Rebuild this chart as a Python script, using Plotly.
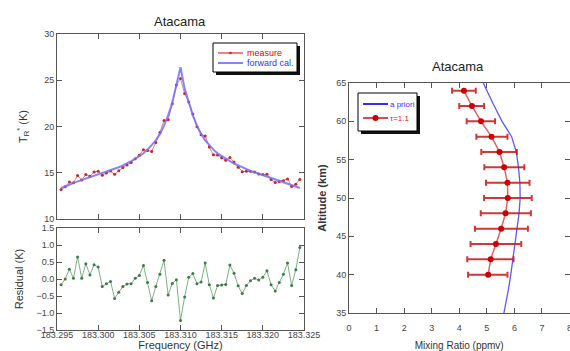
import plotly.graph_objects as go

# ---------------- data ----------------
freq = [183.2955, 183.296, 183.2965, 183.297, 183.2975, 183.298, 183.2985, 183.299, 183.2995, 183.300,
        183.3005, 183.301, 183.3015, 183.302, 183.3025, 183.303, 183.3035, 183.304, 183.3045, 183.305,
        183.3055, 183.306, 183.3065, 183.307, 183.3075, 183.308, 183.3085, 183.309, 183.3095, 183.310,
        183.3105, 183.311, 183.3115, 183.312, 183.3125, 183.313, 183.3135, 183.314, 183.3145, 183.315,
        183.3155, 183.316, 183.3165, 183.317, 183.3175, 183.318, 183.3185, 183.319, 183.3195, 183.320,
        183.3205, 183.321, 183.3215, 183.322, 183.3225, 183.323, 183.3235, 183.324, 183.3245]

measure = [13.18, 13.50, 13.99, 13.92, 14.70, 14.22, 14.80, 14.62, 15.07, 15.15,
           14.73, 14.96, 15.18, 14.83, 15.21, 15.58, 15.85, 16.11, 16.52, 16.90,
           17.50, 17.40, 17.31, 18.28, 19.34, 20.65, 20.73, 22.47, 24.48, 25.18,
           23.57, 22.65, 21.36, 19.96, 19.11, 18.97, 17.78, 16.94, 16.91, 16.62,
           16.34, 16.66, 16.17, 15.60, 15.12, 15.16, 15.15, 15.07, 14.87, 14.80,
           14.84, 14.28, 13.95, 14.05, 14.14, 14.32, 13.51, 13.77, 14.28]

forward = [13.35, 13.5, 13.7, 13.9, 14.05, 14.2, 14.35, 14.5, 14.65, 14.8,
           14.95, 15.1, 15.25, 15.4, 15.6, 15.8, 16.0, 16.25, 16.5, 16.8,
           17.1, 17.5, 17.95, 18.5, 19.2, 20.1, 21.2, 22.6, 24.5, 26.4,
           24.1, 22.6, 21.2, 20.1, 19.2, 18.5, 17.95, 17.5, 17.1, 16.8,
           16.5, 16.25, 16.0, 15.8, 15.55, 15.35, 15.2, 15.05, 14.9, 14.75,
           14.6, 14.45, 14.3, 14.15, 14.0, 13.85, 13.7, 13.5, 13.35]

residual = [-0.17, 0.0, 0.29, 0.02, 0.65, 0.02, 0.45, 0.12, 0.42, 0.35,
            -0.22, -0.14, -0.07, -0.57, -0.39, -0.22, -0.15, -0.14, 0.02, 0.1,
            0.4, -0.1, -0.64, -0.22, 0.14, 0.55, -0.47, -0.13, -0.02, -1.22,
            -0.53, 0.05, 0.16, -0.14, -0.09, 0.47, -0.17, -0.56, -0.19, -0.18,
            -0.16, 0.41, 0.17, -0.2, -0.43, -0.19, -0.05, 0.02, -0.03, 0.05,
            0.24, -0.17, -0.35, -0.1, 0.14, 0.47, -0.19, 0.27, 0.93]

freq_ticks = [183.295, 183.300, 183.305, 183.310, 183.315, 183.320, 183.325]
freq_ticklabels = ["183.295", "183.300", "183.305", "183.310", "183.315", "183.320", "183.325"]

apriori_alt = [35, 36, 38, 40, 42, 44, 46, 48, 50, 52, 54, 56, 58, 60, 62, 64, 65]
apriori_val = [5.62, 5.68, 5.78, 5.87, 5.95, 6.03, 6.11, 6.17, 6.21, 6.20, 6.15, 6.07, 5.90, 5.55, 5.27, 5.00, 4.87]

ret_alt = [64, 62, 60, 58, 56, 54, 52, 50, 48, 46, 44, 42, 40]
ret_val = [4.17, 4.46, 4.79, 5.17, 5.46, 5.63, 5.75, 5.76, 5.68, 5.52, 5.33, 5.14, 5.05]
ret_lo = [3.74, 4.00, 4.27, 4.62, 4.80, 4.91, 4.97, 4.90, 4.78, 4.57, 4.41, 4.29, 4.32]
ret_hi = [4.60, 4.90, 5.30, 5.75, 6.09, 6.36, 6.55, 6.63, 6.60, 6.49, 6.25, 5.97, 5.75]

err_plus = [h - v for h, v in zip(ret_hi, ret_val)]
err_minus = [v - l for l, v in zip(ret_lo, ret_val)]

legend1_labels = ["measure", "forward cal."]
legend2_labels = ["a priori", "τ=1.1"]

# ---------------- figure ----------------
W, H = 570, 351
FONT = "Liberation Sans, Arial, sans-serif"
AX = "#555555"
TICKC = "#444444"
RED_L = "rgba(230,80,80,0.75)"
BLUE_L = "rgba(110,110,255,0.85)"
RED_E = "rgba(200,20,20,0.85)"
APR = "rgba(70,70,255,0.9)"


def px_x(p):
    return p / W


def px_y(p):
    return 1 - p / H


fig = go.Figure()

fig.add_trace(go.Scatter(
    x=freq, y=measure, mode="lines+markers", name=legend1_labels[0], showlegend=False,
    line=dict(color=RED_L, width=1), marker=dict(color="#d02020", size=3),
    xaxis="x", yaxis="y"))
fig.add_trace(go.Scatter(
    x=freq, y=forward, mode="lines", name=legend1_labels[1], showlegend=False,
    line=dict(color=BLUE_L, width=2), xaxis="x", yaxis="y"))

fig.add_trace(go.Scatter(
    x=freq, y=residual, mode="lines+markers", showlegend=False, name="residual",
    line=dict(color="rgba(80,150,90,0.75)", width=1), marker=dict(color="#3c7a46", size=3),
    xaxis="x2", yaxis="y2"))

fig.add_trace(go.Scatter(
    x=apriori_val, y=apriori_alt, mode="lines", name=legend2_labels[0], showlegend=False,
    line=dict(color=APR, width=1.3), xaxis="x3", yaxis="y3"))
fig.add_trace(go.Scatter(
    x=ret_val, y=ret_alt, mode="lines+markers", name=legend2_labels[1], showlegend=False,
    line=dict(color="rgba(215,60,60,0.8)", width=1.5), marker=dict(color="#cc0000", size=6),
    error_x=dict(type="data", symmetric=False, array=err_plus, arrayminus=err_minus,
                 color=RED_E, thickness=2, width=3),
    xaxis="x3", yaxis="y3"))

common = dict(showline=True, linecolor=AX, linewidth=1, mirror="ticks", ticks="inside",
              ticklen=5, tickcolor=AX, showgrid=False, zeroline=False, automargin=False,
              tickfont=dict(family=FONT, size=9, color=TICKC))
tfont = dict(family=FONT, size=11, color="#333")

# legend boxes (drawn as shapes + text)
shapes = []
annotations = []


def legend_box(x0, y0, x1, y1):
    shapes.append(dict(type="rect", xref="paper", yref="paper", layer="above",
                       x0=px_x(x0 + 3), x1=px_x(x1 + 3), y0=px_y(y1 + 3), y1=px_y(y0 + 3),
                       fillcolor="#111", line=dict(width=0)))
    shapes.append(dict(type="rect", xref="paper", yref="paper", layer="above",
                       x0=px_x(x0), x1=px_x(x1), y0=px_y(y1), y1=px_y(y0),
                       fillcolor="white", line=dict(color="black", width=1)))


def legend_line(x0, x1, y, color, width):
    shapes.append(dict(type="line", xref="paper", yref="paper", layer="above",
                       x0=px_x(x0), x1=px_x(x1), y0=px_y(y), y1=px_y(y),
                       line=dict(color=color, width=width)))


def legend_dot(x, y, r, color):
    shapes.append(dict(type="circle", xref="paper", yref="paper", layer="above",
                       x0=px_x(x - r), x1=px_x(x + r), y0=px_y(y + r), y1=px_y(y - r),
                       fillcolor=color, line=dict(width=0)))


def legend_text(x, y, text, color, size):
    annotations.append(dict(text=text, x=px_x(x), y=px_y(y), xref="paper", yref="paper",
                            xanchor="left", yanchor="middle", showarrow=False,
                            font=dict(family=FONT, size=size, color=color)))


legend_box(213, 43, 297, 72)
legend_line(218, 243, 53, "#e03030", 1.2)
legend_dot(230.5, 53, 1.3, "#d02020")
legend_text(245, 53.5, legend1_labels[0], "#e00000", 9)
legend_line(218, 243, 63, BLUE_L, 2)
legend_text(245, 63.5, legend1_labels[1], "#3333ff", 9)

legend_box(358, 93, 417, 131)
legend_line(363, 388, 104, "#3030ee", 2)
legend_text(388, 104.5, legend2_labels[0], "#3333ee", 8)
legend_line(363, 388, 118, "#cc1010", 1.5)
legend_dot(375.5, 118, 3, "#cc0000")
legend_text(388, 118.5, legend2_labels[1], "#e02020", 8)

annotations.append(dict(text="Atacama", x=px_x(180), y=px_y(21), xref="paper", yref="paper",
                        xanchor="center", yanchor="middle", showarrow=False,
                        font=dict(family=FONT, size=13, color="#222")))
annotations.append(dict(text="Atacama", x=px_x(458), y=px_y(66), xref="paper", yref="paper",
                        xanchor="center", yanchor="middle", showarrow=False,
                        font=dict(family=FONT, size=13, color="#222")))

fig.update_layout(
    width=W, height=H, margin=dict(l=0, r=0, t=0, b=0, autoexpand=False),
    paper_bgcolor="white", plot_bgcolor="white", showlegend=False,
    font=dict(family=FONT, size=10, color="#333333"),
    xaxis=dict(domain=[px_x(57), px_x(304)], range=[183.295, 183.325], anchor="y",
               tickvals=freq_ticks, showticklabels=False, **common),
    yaxis=dict(domain=[px_y(219), px_y(34)], range=[10, 30], anchor="x",
               tickvals=[10, 15, 20, 25, 30],
               title=dict(text="T<sub>R</sub><sup>*</sup> (K)", standoff=14, font=tfont), **common),
    xaxis2=dict(domain=[px_x(57), px_x(304)], range=[183.295, 183.325], anchor="y2",
                tickvals=freq_ticks, ticktext=freq_ticklabels, ticklabelstandoff=-4,
                title=dict(text="Frequency (GHz)", standoff=0, font=tfont), **common),
    yaxis2=dict(domain=[px_y(330), px_y(228)], range=[-1.5, 1.5], anchor="x2",
                tickvals=[-1.5, -1.0, -0.5, 0.0, 0.5, 1.0, 1.5], tickformat=".1f",
                title=dict(text="Residual (K)", standoff=10, font=tfont), **common),
    xaxis3=dict(domain=[px_x(349), px_x(569.5)], range=[0, 8], anchor="y3",
                tickvals=[0, 1, 2, 3, 4, 5, 6, 7, 8], ticklabelstandoff=6,
                ticklabeloverflow="allow",
                title=dict(text="Mixing Ratio (ppmv)", standoff=11,
                           font=dict(family=FONT, size=10, color="#333")), **common),
    yaxis3=dict(domain=[px_y(313), px_y(83)], range=[35, 65], anchor="x3",
                tickvals=[35, 40, 45, 50, 55, 60, 65],
                title=dict(text="<b>Altitude (km)</b>", standoff=7, font=tfont), **common),
    annotations=annotations,
    shapes=shapes,
)

fig.write_html("out.html", config={"displayModeBar": False},
               post_script="document.body.style.margin='0';")
